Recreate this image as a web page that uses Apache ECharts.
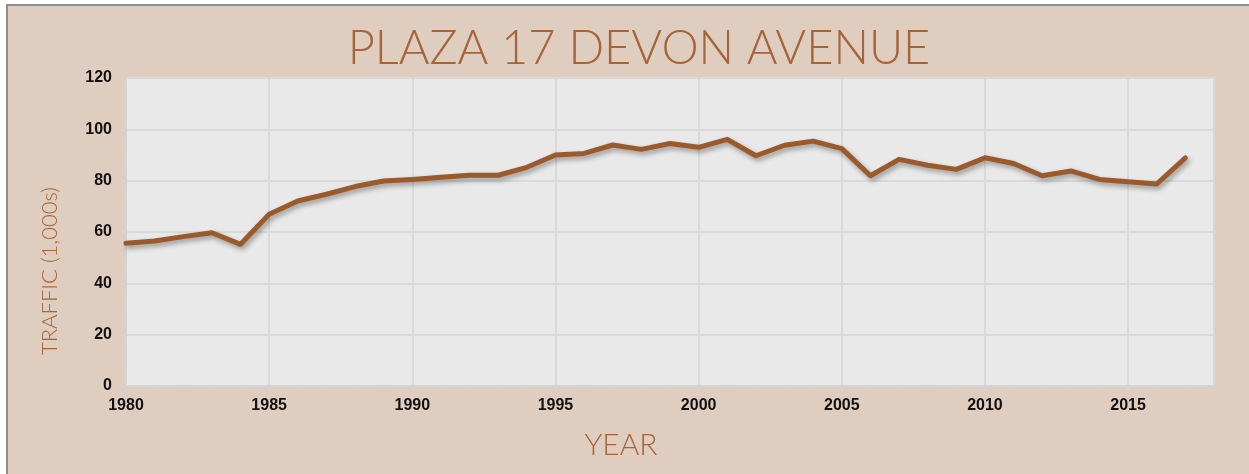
<!DOCTYPE html>
<html>
<head>
<meta charset="utf-8">
<script src="https://cdn.jsdelivr.net/npm/echarts@6/dist/echarts.min.js"></script>
<style>
  html, body { margin: 0; padding: 0; background: #fff; overflow: hidden; }
  #frame {
    position: absolute; left: 6px; top: 4px; width: 1300px; height: 520px;
    background: #dfcdbf; border-top: 2px solid #8e8e8e; border-left: 2px solid #8e8e8e;
  }
  #chart { position: absolute; left: 0; top: 0; width: 1249px; height: 474px; }
</style>
</head>
<body>
<div id="frame"></div>
<div id="chart"></div>
<script>
// years and traffic counts (thousands)
const years = [1980, 1981, 1982, 1983, 1984, 1985, 1986, 1987, 1988, 1989,
  1990, 1991, 1992, 1993, 1994, 1995, 1996, 1997, 1998, 1999,
  2000, 2001, 2002, 2003, 2004, 2005, 2006, 2007, 2008, 2009,
  2010, 2011, 2012, 2013, 2014, 2015, 2016, 2017]
const traffic = [55.6, 56.5, 58.2, 59.7, 55.2, 66.9, 72.1, 74.7, 77.7, 79.9,
  80.5, 81.3, 82.1, 82.1, 85.2, 90.0, 90.6, 93.9, 92.2, 94.5,
  93.0, 96.1, 89.7, 93.8, 95.4, 92.5, 81.9, 88.3, 86.0, 84.4,
  88.9, 86.7, 81.9, 83.8, 80.5, 79.6, 78.7, 88.9]

const titleText = 'PLAZA 17 DEVON AVENUE'
const yName = 'TRAFFIC (1,000s)'
const xName = 'YEAR'

const brown = '#9b5a2c'
const textBrown = '#a5643a'
const thinFont = 'Lato'

const chart = echarts.init(document.getElementById('chart'))

chart.setOption({
  backgroundColor: 'transparent',
  animation: false,
  title: {
    text: titleText,
    left: 634,
    textAlign: 'center',
    top: 20,
    textStyle: { fontFamily: thinFont, fontWeight: 300, fontSize: 47, color: textBrown },
  },
  grid: {
    left: 126, right: 35, top: 78, bottom: 88,
    show: true, backgroundColor: '#e9e9e9', borderWidth: 0,
  },
  xAxis: {
    type: 'value',
    min: 1980, max: 2018, interval: 5,
    axisLine: { show: true, lineStyle: { color: '#d3d3d3', width: 2 } },
    axisTick: { show: true, length: 5, lineStyle: { color: '#d3d3d3', width: 2 } },
    minorTick: { show: true, splitNumber: 5, length: 4, lineStyle: { color: '#d3d3d3', width: 2 } },
    splitLine: { show: true, lineStyle: { color: '#d9d9d9', width: 2 } },
    axisLabel: {
      showMaxLabel: false, margin: 12,
      color: '#111', fontFamily: 'Liberation Sans', fontWeight: 'bold', fontSize: 16,
      formatter: v => String(v),
    },
  },
  yAxis: {
    type: 'value',
    min: 0, max: 120, interval: 20,
    axisLine: { show: true, lineStyle: { color: '#d3d3d3', width: 2 } },
    axisTick: { show: true, length: 5, lineStyle: { color: '#d3d3d3', width: 2 } },
    minorTick: { show: true, splitNumber: 5, length: 4, lineStyle: { color: '#d3d3d3', width: 2 } },
    splitLine: { show: true, lineStyle: { color: '#d9d9d9', width: 2 } },
    axisLabel: {
      margin: 14,
      color: '#111', fontFamily: 'Liberation Sans', fontWeight: 'bold', fontSize: 16,
    },
  },
  graphic: [
    {
      type: 'text', x: 50, y: 271, rotation: Math.PI / 2,
      style: {
        text: yName, fill: textBrown, font: '300 22px ' + thinFont,
        align: 'center', verticalAlign: 'middle',
      },
    },
    {
      type: 'text', x: 621, y: 445,
      style: {
        text: xName, fill: textBrown, font: '300 30px ' + thinFont,
        align: 'center', verticalAlign: 'middle',
      },
    },
  ],
  series: [
    {
      type: 'line',
      data: years.map((y, i) => [y, traffic[i]]),
      showSymbol: false,
      lineStyle: {
        color: brown, width: 5, cap: 'round', join: 'round',
        shadowColor: 'rgba(0,0,0,0.35)', shadowBlur: 5, shadowOffsetX: 2, shadowOffsetY: 3,
      },
    },
  ],
})
</script>
</body>
</html>
